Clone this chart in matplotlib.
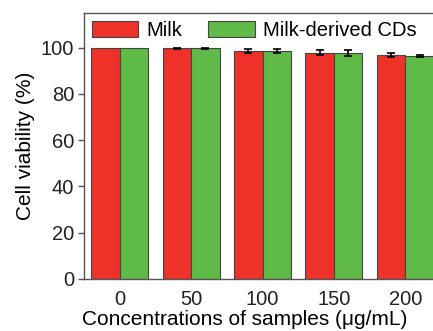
import numpy as np
import matplotlib
matplotlib.use("Agg")
import matplotlib.pyplot as plt

plt.rcParams['font.family'] = ['Liberation Sans', 'DejaVu Sans']

concentrations = ["0", "50", "100", "150", "200"]
milk = [100.0, 99.8, 98.6, 97.9, 97.0]
milk_err = [np.nan, 0.2, 0.8, 1.0, 0.9]
cds = [100.0, 99.7, 98.6, 97.5, 96.5]
cds_err = [np.nan, 0.2, 1.0, 1.3, 0.5]

red = '#EE3229'
green = '#5FBA47'

fig = plt.figure(figsize=(4.33, 3.31), dpi=100)
ax = fig.add_axes([84 / 433, 52 / 331, 357 / 433, 266 / 331])

x = np.arange(len(concentrations))
w = 0.4
ax.bar(x - w / 2, milk, w, color=red, edgecolor='#444444', linewidth=0.8, label='Milk')
ax.bar(x + w / 2, cds, w, color=green, edgecolor='#444444', linewidth=0.8, label='Milk-derived CDs')
ax.errorbar(x - w / 2, milk, yerr=milk_err, fmt='none', ecolor='black', elinewidth=1.2, capsize=3, capthick=1.2)
ax.errorbar(x + w / 2, cds, yerr=cds_err, fmt='none', ecolor='black', elinewidth=1.2, capsize=3, capthick=1.2)

ax.set_xlim(-0.5, 4.5)
ax.set_ylim(0, 115)
ax.set_yticks([0, 20, 40, 60, 80, 100])
ax.set_xticks(x)
ax.set_xticklabels(concentrations)
ax.tick_params(axis='both', labelsize=14.5, colors='#222222')
ax.tick_params(axis='y', length=4, width=1, color='#555555', pad=3)
ax.tick_params(axis='x', length=0, pad=8)
for s in ax.spines.values():
    s.set_color('#555555')
    s.set_linewidth(1)

ax.set_xlabel('Concentrations of samples (μg/mL)', fontsize=15)
ax.xaxis.set_label_coords(0.45, -0.118)
ax.set_ylabel('Cell viability (%)', fontsize=15, labelpad=4)

ax.legend(ncol=2, loc='upper left', frameon=False, fontsize=14.5,
          handlelength=2.3, handleheight=0.85, handletextpad=0.4,
          columnspacing=1.3, borderaxespad=0.25, borderpad=0.15)

fig.savefig('out.png', dpi=100)
